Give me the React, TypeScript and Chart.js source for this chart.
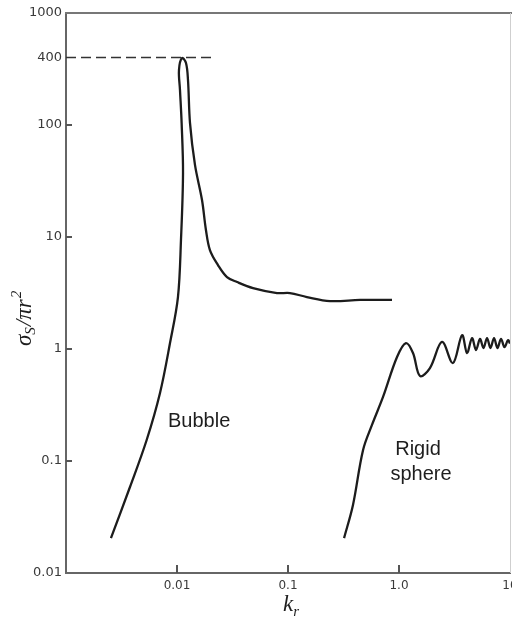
import React, { useEffect, useRef } from "react";
import { Chart, registerables } from "chart.js";

Chart.register(...registerables);

// Bubble curve (k_r, sigma_s / pi r^2)
const bubbleK = [
  0.00254, 0.00377, 0.00533, 0.00703, 0.00865, 0.0102, 0.01086, 0.01133, 0.01101,
  0.01064, 0.01042, 0.0111, 0.01205, 0.01256, 0.0131, 0.01452, 0.0168, 0.01824,
  0.0198, 0.0234, 0.0282, 0.0348, 0.0484, 0.0796, 0.104, 0.148, 0.239, 0.446, 0.865,
];
const bubbleSigma = [
  0.0205, 0.0586, 0.154, 0.405, 1.13, 2.91, 9.4, 37.3, 104,
  205, 310, 396, 358, 252, 104, 44, 21.4, 11.5,
  7.65, 5.62, 4.39, 3.96, 3.5, 3.16, 3.16, 2.91, 2.68, 2.74, 2.74,
];

// Rigid sphere curve
const rigidK = [
  0.32, 0.385, 0.474, 0.571, 0.718, 0.96, 1.156, 1.337, 1.545, 1.9, 2.44, 3.06,
  3.7, 4.1, 4.55, 4.94, 5.37, 5.77, 6.21, 6.67, 7.18, 7.71, 8.3, 8.92, 9.59, 10.0,
];
const rigidSigma = [
  0.0205, 0.0405, 0.125, 0.21, 0.373, 0.849, 1.13, 0.921, 0.574, 0.676, 1.155, 0.75,
  1.33, 0.92, 1.25, 0.98, 1.23, 1.02, 1.25, 1.02, 1.25, 1.02, 1.23, 1.04, 1.2, 1.12,
];

// Dashed reference line at 400
const dashK = [0.001, 0.021];
const dashSigma = [400, 400];

const yTickValues = [0.01, 0.1, 1, 10, 100, 400, 1000];
const yTickLabels = ["0.01", "0.1", "1", "10", "100", "400", "1000"];
const xTickValues = [0.01, 0.1, 1, 10];
const xTickLabels = ["0.01", "0.1", "1.0", "10"];

const toPts = (xs: number[], ys: number[]) => xs.map((x, i) => ({ x, y: ys[i] }));

const decoPlugin = {
  id: "deco",
  afterDraw(chart: any) {
    const { ctx, chartArea: a, scales } = chart;
    const xs = scales.x;
    const ys = scales.y;
    ctx.save();
    // top border
    ctx.strokeStyle = "#777";
    ctx.lineWidth = 2;
    ctx.beginPath();
    ctx.moveTo(a.left - 1, a.top);
    ctx.lineTo(512, a.top);
    ctx.stroke();
    // right border (faint)
    ctx.strokeStyle = "#cfcfcf";
    ctx.lineWidth = 1;
    ctx.beginPath();
    ctx.moveTo(a.right + 0.5, a.top);
    ctx.lineTo(a.right + 0.5, a.bottom);
    ctx.stroke();
    // inward tick marks
    ctx.strokeStyle = "#555";
    ctx.lineWidth = 2;
    ys.ticks.forEach((t: any) => {
      if (t.value === 1000 || t.value === 0.01 || t.value === 400) return;
      const py = ys.getPixelForValue(t.value);
      ctx.beginPath();
      ctx.moveTo(a.left, py);
      ctx.lineTo(a.left + 6, py);
      ctx.stroke();
    });
    xs.ticks.forEach((t: any) => {
      if (t.value === 10) return;
      const px = xs.getPixelForValue(t.value);
      ctx.beginPath();
      ctx.moveTo(px, a.bottom);
      ctx.lineTo(px, a.bottom - 8);
      ctx.stroke();
    });

    // annotations
    ctx.fillStyle = "#1e1e1e";
    ctx.font = "20px 'Liberation Sans', Arial, sans-serif";
    ctx.textAlign = "left";
    ctx.textBaseline = "alphabetic";
    ctx.fillText("Bubble", 168, 427);
    ctx.textAlign = "center";
    ctx.fillText("Rigid", 418, 455);
    ctx.fillText("sphere", 421, 480);

    // x axis title: k_r
    const serif = "'Liberation Serif', 'DejaVu Serif', serif";
    ctx.textAlign = "left";
    ctx.font = `italic 23px ${serif}`;
    const kW = ctx.measureText("k").width;
    ctx.font = `italic 15px ${serif}`;
    const rW = ctx.measureText("r").width;
    const startX = 291 - (kW + rW) / 2;
    ctx.font = `italic 23px ${serif}`;
    ctx.fillText("k", startX, 611);
    ctx.font = `italic 15px ${serif}`;
    ctx.fillText("r", startX + kW, 616);

    // y axis title: sigma_S / pi r^2
    ctx.save();
    ctx.translate(31, 346);
    ctx.rotate(-Math.PI / 2);
    let cx = 0;
    const big = `italic 23px ${serif}`;
    const small = `italic 15px ${serif}`;
    ctx.font = big;
    ctx.fillText("σ", cx, 0);
    cx += ctx.measureText("σ").width;
    ctx.font = small;
    ctx.fillText("S", cx, 4);
    cx += ctx.measureText("S").width + 1;
    ctx.font = big;
    ctx.fillText("/πr", cx, 0);
    cx += ctx.measureText("/πr").width + 1;
    ctx.font = small;
    ctx.fillText("2", cx, -10);
    ctx.restore();

    ctx.restore();
  },
};

export default function App() {
  const ref = useRef<HTMLCanvasElement | null>(null);
  useEffect(() => {
    if (!ref.current) return;
    const lineStyle = {
      showLine: true,
      pointRadius: 0,
      borderColor: "#1c1c1c",
      borderWidth: 2.3,
      tension: 0.35,
      fill: false,
    };
    const chart = new Chart(ref.current, {
      type: "scatter",
      data: {
        datasets: [
          { ...lineStyle, label: "Bubble", data: toPts(bubbleK, bubbleSigma) },
          { ...lineStyle, label: "Rigid sphere", data: toPts(rigidK, rigidSigma) },
          {
            showLine: true,
            pointRadius: 0,
            borderColor: "#333",
            borderWidth: 1.6,
            borderDash: [10, 5],
            tension: 0,
            label: "400",
            data: toPts(dashK, dashSigma),
          },
        ],
      } as any,
      options: {
        responsive: false,
        devicePixelRatio: 1,
        animation: false,
        layout: { padding: { top: 13, right: 2, left: 0, bottom: 0 } },
        plugins: { legend: { display: false }, tooltip: { enabled: false } },
        scales: {
          x: {
            type: "logarithmic",
            min: 0.001,
            max: 10,
            grid: { display: false, drawTicks: false, tickLength: 0 },
            border: { display: true, color: "#666", width: 2 },
            afterBuildTicks: (s: any) => {
              s.ticks = xTickValues.map((v) => ({ value: v }));
            },
            afterFit: (s: any) => {
              s.height = 48;
              s.paddingLeft = 0;
              s.paddingRight = 0;
            },
            ticks: {
              autoSkip: false,
              maxRotation: 0,
              padding: 6,
              color: "#3a3a3a",
              font: { family: "'DejaVu Sans', sans-serif", size: 12 },
              callback: (_v: any, i: number) => xTickLabels[i],
            },
          },
          y: {
            type: "logarithmic",
            min: 0.01,
            max: 1000,
            grid: { display: false, drawTicks: false, tickLength: 0 },
            border: { display: true, color: "#666", width: 2 },
            afterBuildTicks: (s: any) => {
              s.ticks = yTickValues.map((v) => ({ value: v }));
            },
            afterFit: (s: any) => {
              s.width = 66;
              s.paddingTop = 0;
              s.paddingBottom = 0;
            },
            ticks: {
              autoSkip: false,
              padding: 4,
              color: "#3a3a3a",
              font: { family: "'DejaVu Sans', sans-serif", size: 13 },
              callback: (_v: any, i: number) => yTickLabels[i],
            },
          },
        },
      } as any,
      plugins: [decoPlugin],
    });
    return () => chart.destroy();
  }, []);

  return (
    <div style={{ position: "absolute", left: 0, top: 0, width: 512, height: 621, background: "#fff" }}>
      <canvas ref={ref} width={512} height={621} style={{ display: "block" }} />
    </div>
  );
}
